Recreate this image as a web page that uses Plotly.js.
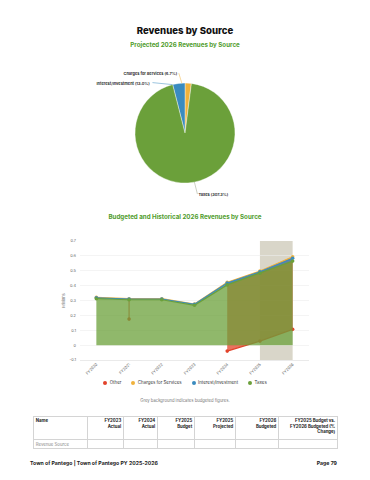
<!DOCTYPE html>
<html>
<head>
<meta charset="utf-8">
<script src="https://cdn.plot.ly/plotly-3.0.1.min.js"></script>
<style>
  html, body { margin:0; padding:0; background:#fff; }
  #page { position:relative; width:370px; height:480px; overflow:hidden; font-family:'Inter','Open Sans',sans-serif; }
  #plot { position:absolute; left:0; top:0; width:370px; height:480px; }
  .t { position:absolute; white-space:nowrap; }
  #title { left:0; width:370px; top:25px; text-align:center; font-weight:800; font-size:9.6px; color:#111; }
  .sub { left:0; width:370px; text-align:center; font-weight:700; font-size:6.2px; color:#4f9c2c; }
  #sub1 { top:40.5px; }
  #sub2 { top:212.5px; }
  #legend { left:0; width:370px; top:380px; text-align:center; font-size:4.4px; color:#333; }
  #legend span.item { display:inline-block; margin:0 5px; }
  #legend span.dot { display:inline-block; width:4px; height:4px; border-radius:50%; margin-right:2.5px; vertical-align:-0.6px; }
  #note { left:0; width:370px; top:397.5px; text-align:center; font-size:4.2px; color:#777; }
  table#tbl { position:absolute; left:33px; top:416px; border-collapse:collapse; font-size:4.3px; table-layout:fixed; }
  #tbl td, #tbl th { border:0.5px solid #d4d4d4; padding:1.2px 1.8px; vertical-align:top; line-height:5.4px; }
  #tbl th { font-weight:700; color:#222; text-align:right; height:20px; }
  #tbl th.first { text-align:left; }
  #tbl td { color:#888; height:5px; }
  .foot { top:459.5px; font-weight:700; font-size:5.2px; color:#222; }
  #foot1 { left:30px; }
  #foot2 { right:33px; }
</style>
</head>
<body>
<div id="page">
  <div id="plot"></div>
  <div id="title" class="t">Revenues by Source</div>
  <div id="sub1" class="t sub">Projected 2026 Revenues by Source</div>
  <div id="sub2" class="t sub">Budgeted and Historical 2026 Revenues by Source</div>
  <div id="legend" class="t"></div>
  <div id="note" class="t">Grey background indicates budgeted figures.</div>
  <table id="tbl"></table>
  <div id="foot1" class="t foot">Town of Pantego | Town of Pantego PY 2025-2026</div>
  <div id="foot2" class="t foot">Page 79</div>
</div>
<script>
// ---------- DATA ----------
const years = ['FY2020','FY2021','FY2022','FY2023','FY2024','FY2025','FY2026'];
const budgetedYears = ['FY2025','FY2026'];
// values in millions (stack order bottom -> top: Taxes, Interest, Charges, Other)
const taxes    = [0.312, 0.305, 0.305, 0.268, 0.405, 0.483, 0.565];
const interest = [0.006, 0.005, 0.005, 0.006, 0.012, 0.010, 0.019];
const charges  = [0.003, 0.002, 0.002, 0.002, 0.005, 0.005, 0.010];
const other    = [null, -0.137, null, null, -0.462, -0.471, -0.488];

const seriesNames  = ['Other','Charges for Services','Interest/Investment','Taxes'];
const seriesColors = ['#e2432a','#f0b23c','#3a8bbf','#6ba03a'];

const pieLabels   = ['Charges for Services','Interest/Investment','Taxes'];
const piePercents = [6.7, 13.0, 307.3];
const pieColors   = ['#f0b23c','#3a8bbf','#6ba03a'];

const yTickVals = [-0.1, 0, 0.1, 0.2, 0.3, 0.4, 0.5, 0.6, 0.7];

const tableHeader = ['Name','FY2023<br>Actual','FY2024<br>Actual','FY2025<br>Budget','FY2025<br>Projected','FY2026<br>Budgeted','FY2025 Budget vs.<br>FY2026 Budgeted (%<br>Change)'];
const tableRow    = ['Revenue Source','','','','','',''];
const tableColWidths = [54,36,34,37,41,43,59];

// ---------- helpers ----------
function rgba(hex, a){
  const n = parseInt(hex.slice(1),16);
  return 'rgba(' + ((n>>16)&255) + ',' + ((n>>8)&255) + ',' + (n&255) + ',' + a + ')';
}

const W = 370, H = 480;
// stacked values (bottom -> top)
const stackSeries = [
  {name:'Taxes', vals:taxes, color:seriesColors[3]},
  {name:'Interest/Investment', vals:interest, color:seriesColors[2]},
  {name:'Charges for Services', vals:charges, color:seriesColors[1]},
  {name:'Other', vals:other, color:seriesColors[0]}
];
let running = years.map(() => 0);
stackSeries.forEach(s => {
  s.lower = running.slice();
  s.upper = running.map((r,i) => s.vals[i] == null ? null : r + s.vals[i]);
  running = running.map((r,i) => s.vals[i] == null ? r : r + s.vals[i]);
});

// drawing order: Other, Charges, Interest, Taxes (later covers earlier)
const drawOrder = ['Other','Charges for Services','Interest/Investment','Taxes'];
const traces = [];
drawOrder.forEach(name => {
  const s = stackSeries.find(q => q.name === name);
  // find runs of defined values
  const runs = [];
  let cur = [];
  years.forEach((y,i) => {
    if (s.vals[i] != null) cur.push(i); else { if (cur.length) runs.push(cur); cur = []; }
  });
  if (cur.length) runs.push(cur);
  runs.forEach(run => {
    if (run.length >= 2) {
      const xsF = run.map(i => years[i]);
      const xsB = run.slice().reverse().map(i => years[i]);
      traces.push({
        type:'scatter', mode:'lines', x: xsF.concat(xsB),
        y: run.map(i => s.upper[i]).concat(run.slice().reverse().map(i => s.lower[i])),
        fill:'toself', fillcolor: rgba(s.color,0.75), line:{width:0}, hoverinfo:'skip', showlegend:false
      });
    } else {
      const i = run[0];
      traces.push({
        type:'scatter', mode:'lines', x:[years[i], years[i]], y:[s.lower[i], s.upper[i]],
        line:{color: s.color, width:1}, hoverinfo:'skip', showlegend:false
      });
    }
  });
  traces.push({
    type:'scatter', mode:'lines', x: years, y: s.upper, connectgaps:false,
    line:{color: s.color, width:1.2}, hoverinfo:'skip', showlegend:false
  });
  traces.push({
    type:'scatter', mode:'markers', x: years, y: s.upper,
    marker:{color: s.color, size:3.6}, hoverinfo:'skip', showlegend:false
  });
});

// pie
const pieCenter = {x:185, y:133}, pieR = 50;
traces.push({
  type:'pie', labels: pieLabels, values: piePercents, sort:false,
  direction:'counterclockwise', rotation:0, textinfo:'none', hoverinfo:'none',
  marker:{colors: pieColors, line:{color:'#ffffff', width:0.4}},
  domain:{x:[(pieCenter.x-pieR)/W, (pieCenter.x+pieR)/W], y:[1-(pieCenter.y+pieR)/H, 1-(pieCenter.y-pieR)/H]},
  showlegend:false
});

// pie label annotations (tip at the slice edge)
const pieTotal = piePercents.reduce((a,b)=>a+b,0);
const labelOffsets = [
  {ax:-3, ay:-10, xanchor:'right'},
  {ax:-20, ay:-2, xanchor:'right'},
  {ax:3, ay:12, xanchor:'left'}
];
let before = 0;
const annotations = [];
piePercents.forEach((v,i) => {
  const mid = (before + v/2)/pieTotal * 2*Math.PI;
  before += v;
  const px = pieCenter.x - pieR*Math.sin(mid);
  const py = pieCenter.y - pieR*Math.cos(mid);
  annotations.push({
    xref:'paper', yref:'paper', x: px/W, y: 1 - py/H,
    text: pieLabels[i] + ' (' + v.toFixed(1) + '%)',
    showarrow:true, arrowhead:0, arrowwidth:0.5, arrowcolor: i===2 ? '#9aa08a' : pieColors[i],
    standoff:0, ax: labelOffsets[i].ax, ay: labelOffsets[i].ay,
    xanchor: labelOffsets[i].xanchor, yanchor:'middle', borderpad:0.5,
    font:{size:3.9, color:'#333', family:'Inter, sans-serif', weight:700}
  });
});

const b0 = years.indexOf(budgetedYears[0]);
const b1 = years.indexOf(budgetedYears[budgetedYears.length-1]);

const layout = {
  width:W, height:H, margin:{l:0,r:0,t:0,b:0},
  paper_bgcolor:'rgba(0,0,0,0)', plot_bgcolor:'rgba(0,0,0,0)',
  showlegend:false,
  font:{family:'Inter, sans-serif', color:'#666', size:4},
  xaxis:{
    domain:[80/W, 309/W], type:'category', categoryorder:'array', categoryarray: years,
    range:[-0.5, years.length-0.5], tickangle:-45, showgrid:false, zeroline:false,
    showline:true, linecolor:'#dcdcdc', linewidth:0.6, ticks:'', tickfont:{size:3.9, color:'#666'},
    fixedrange:true
  },
  yaxis:{
    domain:[1-360/H, 1-241/H], range:[-0.1, 0.7], tickvals: yTickVals,
    ticktext: yTickVals.map(v => v === 0 ? '0' : String(v)),
    showgrid:true, gridcolor:'#ececec', gridwidth:0.6, zeroline:false, showline:false,
    ticks:'', tickfont:{size:3.9, color:'#666'}, ticklabelstandoff:3,
    title:{text:'Millions', font:{size:4, color:'#777'}, standoff:4},
    fixedrange:true
  },
  shapes:[{
    type:'rect', xref:'x', yref:'y domain', x0:b0, x1:b1, y0:0, y1:1,
    fillcolor:'#d9d6c9', line:{width:0}, layer:'below'
  }],
  annotations: annotations
};

Plotly.newPlot('plot', traces, layout, {staticPlot:true, displayModeBar:false});

// legend (HTML)
const legend = document.getElementById('legend');
seriesNames.forEach((n,i) => {
  const it = document.createElement('span'); it.className = 'item';
  const d = document.createElement('span'); d.className = 'dot'; d.style.background = seriesColors[i];
  it.appendChild(d); it.appendChild(document.createTextNode(n));
  legend.appendChild(it);
});

// table (HTML)
const tbl = document.getElementById('tbl');
const cg = document.createElement('colgroup');
tableColWidths.forEach(w => { const c = document.createElement('col'); c.style.width = w + 'px'; cg.appendChild(c); });
tbl.appendChild(cg);
const hr = document.createElement('tr');
tableHeader.forEach((h,i) => { const th = document.createElement('th'); if (i===0) th.className='first'; th.innerHTML = h; hr.appendChild(th); });
tbl.appendChild(hr);
const rr = document.createElement('tr');
tableRow.forEach(v => { const td = document.createElement('td'); td.textContent = v; rr.appendChild(td); });
tbl.appendChild(rr);
</script>
</body>
</html>
